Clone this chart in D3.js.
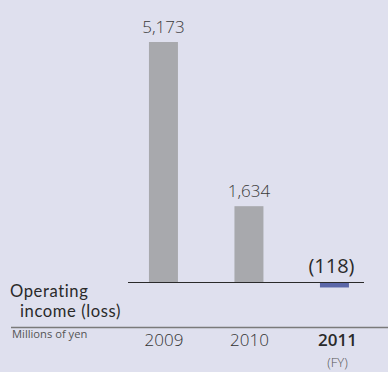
<!DOCTYPE html>
<html>
<head>
<meta charset="utf-8">
<script src="https://cdn.jsdelivr.net/npm/d3@7"></script>
<style>
  html, body { margin: 0; padding: 0; background: #dfe0ee; }
  svg { display: block; }
  text { font-family: "Open Sans", "Noto Sans", sans-serif; }
  text.title { font-family: Lato, "Open Sans", sans-serif; }
</style>
</head>
<body>
<svg id="chart" width="388" height="372"></svg>
<script>
// Operating income (loss), millions of yen, by fiscal year
const years = ["2009", "2010", "2011"];
const values = [5173, 1634, -118];
const valueLabels = ["5,173", "1,634", "(118)"];
const highlightYear = "2011";
const titleLines = ["Operating", "income (loss)"];

const W = 388, H = 372;
const svg = d3.select("#chart");

svg.append("rect").attr("width", W).attr("height", H).attr("fill", "#dfe0ee");

const x = d3.scaleBand()
  .domain(years)
  .range([120.7, 377.2])
  .paddingInner(0.661)
  .paddingOuter(0.3305);

const y = d3.scaleLinear()
  .domain([0, d3.max(values)])
  .range([282, 42]);

// bars
svg.selectAll("rect.bar")
  .data(years)
  .join("rect")
  .attr("class", "bar")
  .attr("x", d => x(d))
  .attr("width", x.bandwidth())
  .attr("y", (d, i) => Math.min(y(values[i]), y(0)))
  .attr("height", (d, i) => Math.abs(y(values[i]) - y(0)))
  .attr("fill", (d, i) => values[i] < 0 ? "#5b67a8" : "#a8a9ad");

// zero line
svg.append("line")
  .attr("x1", 128).attr("x2", 364)
  .attr("y1", y(0) + 0.5).attr("y2", y(0) + 0.5)
  .attr("stroke", "#2a2a2a").attr("stroke-width", 1);

// value labels
svg.selectAll("text.val")
  .data(years)
  .join("text")
  .attr("class", "val")
  .attr("x", (d, i) => x(d) + x.bandwidth() / 2 + (values[i] < 0 ? -3 : 0))
  .attr("y", (d, i) => values[i] < 0 ? 273 : y(values[i]) - 9)
  .attr("text-anchor", "middle")
  .attr("font-size", (d, i) => values[i] < 0 ? 20 : 17)
  .attr("font-weight", (d, i) => values[i] < 0 ? 400 : 300)
  .attr("fill", (d, i) => values[i] < 0 ? "#2a2a2a" : "#3a3a3a")
  .text((d, i) => valueLabels[i]);

// title, two lines
svg.selectAll("text.title")
  .data(titleLines)
  .join("text")
  .attr("class", "title")
  .attr("x", (d, i) => i === 0 ? 10 : 20)
  .attr("y", (d, i) => 297 + i * 20)
  .attr("font-size", 16.6)
  .attr("letter-spacing", 0.6)
  .attr("fill", "#2a2a2a")
  .text(d => d);

// separator
svg.append("line")
  .attr("x1", 11).attr("x2", W)
  .attr("y1", 327.5).attr("y2", 327.5)
  .attr("stroke", "#7a7a7a").attr("stroke-width", 1.5);

svg.append("text")
  .attr("x", 12).attr("y", 337.5)
  .attr("font-size", 11.2).attr("fill", "#555")
  .text("Millions of yen");

// year labels
svg.selectAll("text.year")
  .data(years)
  .join("text")
  .attr("class", "year")
  .attr("x", d => x(d) + x.bandwidth() / 2 + (d === highlightYear ? 3 : 0.5))
  .attr("y", 345.5)
  .attr("text-anchor", "middle")
  .attr("font-size", 17)
  .attr("font-weight", d => d === highlightYear ? 600 : 300)
  .attr("fill", d => d === highlightYear ? "#2a2a2a" : "#333")
  .text(d => d);

svg.append("text")
  .attr("x", x(highlightYear) + x.bandwidth() / 2 + 3)
  .attr("y", 366.5)
  .attr("text-anchor", "middle")
  .attr("font-size", 13)
  .attr("font-weight", 300)
  .attr("fill", "#555")
  .text("(FY)");
</script>
</body>
</html>
